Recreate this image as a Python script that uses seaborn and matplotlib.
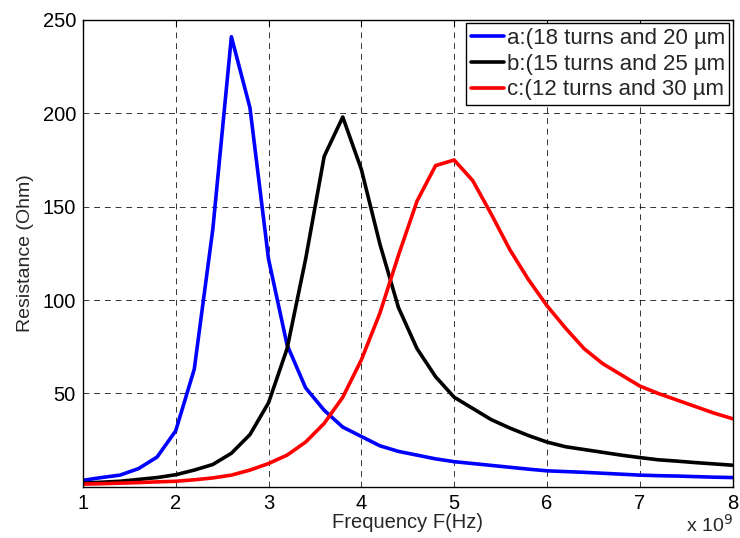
import numpy as np
import pandas as pd
import seaborn as sns
import matplotlib
matplotlib.use("Agg")
import matplotlib.pyplot as plt
from matplotlib.lines import Line2D

freq = [1.0, 1.2, 1.4, 1.6, 1.8, 2.0, 2.2, 2.4, 2.6, 2.8, 3.0, 3.2, 3.4, 3.6, 3.8,
        4.0, 4.2, 4.4, 4.6, 4.8, 5.0, 5.2, 5.4, 5.6, 5.8, 6.0, 6.2, 6.4, 6.6, 6.8,
        7.0, 7.2, 7.4, 7.6, 7.8, 8.0]

res_a = [3.5, 5.0, 6.3, 9.8, 16, 30, 63, 138, 241, 203, 122, 76, 53, 41, 32,
         27, 22, 19, 17, 15, 13.5, 12.5, 11.5, 10.5, 9.5, 8.6, 8.2, 7.8, 7.3, 6.8,
         6.3, 6.0, 5.8, 5.5, 5.2, 5.0]

res_b = [2.0, 2.5, 3.0, 4.0, 5.0, 6.5, 9.0, 12, 18, 28, 45, 74, 122, 177, 198,
         170, 130, 96, 74, 59, 48, 42, 36, 31.5, 27.5, 24, 21.5, 20, 18.5, 17,
         15.7, 14.5, 13.8, 13, 12.3, 11.6]

res_c = [1.5, 1.7, 2.0, 2.3, 2.7, 3.0, 3.8, 4.8, 6.3, 9.0, 12.5, 17, 24, 34, 48,
         68, 93, 124, 153, 172, 175, 164, 146, 127, 111, 97, 85, 74, 66, 60,
         54, 50, 46.5, 43, 39.5, 36.5]

labels = ["a:(18 turns and 20 \u00b5m", "b:(15 turns and 25 \u00b5m", "c:(12 turns and 30 \u00b5m"]
colors = ["#0000ff", "#000000", "#ff0000"]

x_ticks = [1, 2, 3, 4, 5, 6, 7, 8]
y_ticks = [50, 100, 150, 200, 250]

df = pd.DataFrame({
    "freq": freq * 3,
    "res": res_a + res_b + res_c,
    "series": [labels[0]] * len(freq) + [labels[1]] * len(freq) + [labels[2]] * len(freq),
})

sns.set_style("white")
plt.rcParams["font.family"] = ["Liberation Sans", "DejaVu Sans"]

fig = plt.figure(figsize=(7.4, 5.38), dpi=100)
ax = fig.add_axes([0.112, 0.095, 0.878, 0.868])

sns.lineplot(data=df, x="freq", y="res", hue="series", palette=colors,
             linewidth=2.6, ax=ax, legend=False, sort=False)

ax.set_xlim(1, 8)
ax.set_ylim(0, 250)
ax.set_xticks(x_ticks)
ax.set_yticks(y_ticks)
ax.set_xticklabels([str(t) for t in x_ticks], fontsize=14.5)
ax.set_yticklabels([str(t) for t in y_ticks], fontsize=14.5)
ax.tick_params(direction="in", length=4, width=0.8, top=True, right=True,
               colors="black", pad=5)
ax.grid(True, linestyle=(0, (6, 5)), color="black", linewidth=0.7, alpha=0.8)
for s in ax.spines.values():
    s.set_visible(True)
    s.set_color("black")
    s.set_linewidth(1.0)

ax.set_xlabel("Frequency F(Hz)", fontsize=14.5, labelpad=0)
ax.set_ylabel("Resistance (Ohm)", fontsize=14, labelpad=6)
fig.text(0.958, 0.004, r"x 10$^9$", fontsize=14, ha="center", va="bottom")

handles = [Line2D([0], [0], color=c, lw=2.6) for c in colors]
leg = ax.legend(handles, labels, loc="upper right", fontsize=16, frameon=True,
                fancybox=False, framealpha=1, edgecolor="black",
                handlelength=1.5, handletextpad=0.12, borderpad=0.2,
                labelspacing=0.22, borderaxespad=0.15)
leg.get_frame().set_linewidth(1.0)

fig.savefig("out.png", dpi=100)
